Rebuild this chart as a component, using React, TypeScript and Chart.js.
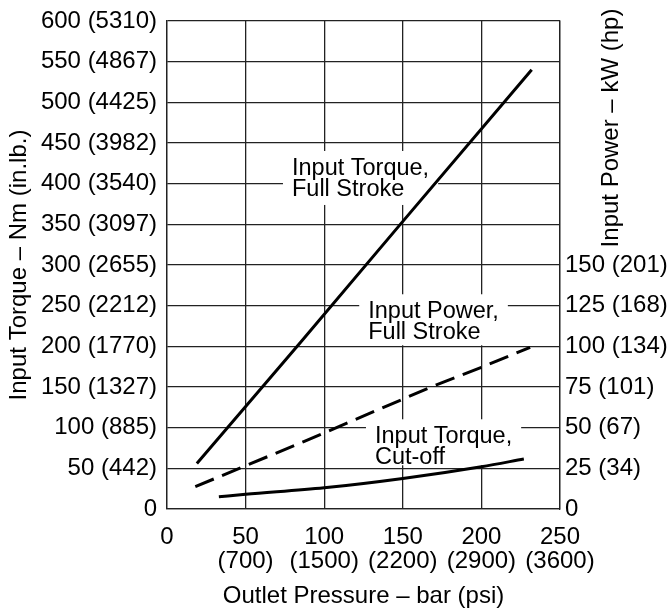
import React, { useEffect, useRef } from 'react';
import { Chart, registerables } from 'chart.js';

Chart.register(...registerables);

// ---- axis ticks ----
const pressureTicks = [0, 50, 100, 150, 200, 250];
const psiLabels = ['', '(700)', '(1500)', '(2200)', '(2900)', '(3600)'];
const torqueTicks = [0, 50, 100, 150, 200, 250, 300, 350, 400, 450, 500, 550, 600];
const inlbLabels = ['', '442', '885', '1327', '1770', '2212', '2655', '3097', '3540', '3982', '4425', '4867', '5310'];
const powerTicks = [0, 25, 50, 75, 100, 125, 150];
const hpLabels = ['', '34', '67', '101', '134', '168', '201'];

// ---- series ----
const torqueFullX = [19, 85, 148, 232];
const torqueFullNm = [56, 205, 349, 540];
const powerFullX = [18, 46, 87, 168, 200, 231];
const powerFullKW = [13.7, 25, 41.4, 75, 87.1, 99.4];
const torqueCutX = [33, 50, 100, 150, 200, 227];
const torqueCutNm = [15, 18, 26, 37.5, 52, 61.5];

// ---- curve labels (anchor in bar / Nm units) ----
const labelLines = [
  ['Input Torque,', 'Full Stroke'],
  ['Input Power,', 'Full Stroke'],
  ['Input Torque,', 'Cut-off'],
];
const labelX = [79.5, 128, 132.3];
const labelY = [410.7, 234.5, 80.8];

const xTitle = 'Outlet Pressure – bar (psi)';
const yTitle = 'Input Torque – Nm (in.lb.)';
const y2Title = 'Input Power – kW (hp)';

// ---- styles ----
const FONT_FAMILY = '"Liberation Sans", Arial, Helvetica, sans-serif';
const AXIS_FONT = `24px ${FONT_FAMILY}`;
const LABEL_FONT = `23.5px ${FONT_FAMILY}`;
const LABEL_LINE_GAP = 21;
const labelBoxPadBottom = [9, 6, 1];
const GRID = '#222';
const W = 671;
const H = 610;
const AREA = { left: 167, right: 560, top: 21, bottom: 509 };

const toPts = (xs: number[], ys: number[]) => xs.map((x, i) => ({ x, y: ys[i] }));

const annotatePlugin = {
  id: 'annotate',
  beforeDatasetsDraw(chart: any) {
    const ctx = chart.ctx;
    const xs = chart.scales.x;
    const ys = chart.scales.y;
    ctx.save();
    ctx.font = LABEL_FONT;
    ctx.fillStyle = '#fff';
    labelLines.forEach((lines, i) => {
      const px = xs.getPixelForValue(labelX[i]);
      const py = ys.getPixelForValue(labelY[i]);
      const w = Math.max(...lines.map((t) => ctx.measureText(t).width));
      const top = py - 24;
      const bottom = py + LABEL_LINE_GAP * (lines.length - 1) + labelBoxPadBottom[i];
      ctx.fillRect(px - 9, top, w + 18, bottom - top);
    });
    ctx.restore();
  },
  afterDraw(chart: any) {
    const ctx = chart.ctx;
    const xs = chart.scales.x;
    const ys = chart.scales.y;
    const area = chart.chartArea;
    ctx.save();
    ctx.fillStyle = '#000';
    ctx.font = LABEL_FONT;
    ctx.textAlign = 'left';
    ctx.textBaseline = 'alphabetic';
    labelLines.forEach((lines, i) => {
      const px = xs.getPixelForValue(labelX[i]);
      const py = ys.getPixelForValue(labelY[i]);
      lines.forEach((t, j) => ctx.fillText(t, px, py + j * LABEL_LINE_GAP));
    });

    ctx.font = AXIS_FONT;
    ctx.textAlign = 'center';
    ctx.textBaseline = 'alphabetic';
    ctx.fillText(xTitle, (area.left + area.right) / 2, area.bottom + 94);
    ctx.save();
    ctx.translate(19, (area.top + area.bottom) / 2);
    ctx.rotate(-Math.PI / 2);
    ctx.textBaseline = 'middle';
    ctx.fillText(yTitle, 0, 0);
    ctx.restore();
    ctx.save();
    ctx.translate(611, area.top + 107);
    ctx.rotate(-Math.PI / 2);
    ctx.textBaseline = 'middle';
    ctx.fillText(y2Title, 0, 0);
    ctx.restore();
    ctx.restore();
  },
};

export default function App() {
  const ref = useRef<HTMLCanvasElement | null>(null);

  useEffect(() => {
    document.body.style.margin = '0';
    document.documentElement.style.overflow = 'hidden';
    if (!ref.current) return;
    Chart.defaults.font.family = FONT_FAMILY;
    const chart = new Chart(ref.current, {
      type: 'line',
      data: {
        datasets: [
          {
            label: 'Input Torque, Full Stroke',
            data: toPts(torqueFullX, torqueFullNm),
            yAxisID: 'y',
            borderColor: '#000',
            borderWidth: 3,
            pointRadius: 0,
            tension: 0,
            fill: false,
          },
          {
            label: 'Input Power, Full Stroke',
            data: toPts(powerFullX, powerFullKW),
            yAxisID: 'y2',
            borderColor: '#000',
            borderWidth: 3,
            borderDash: [20, 9],
            pointRadius: 0,
            tension: 0,
            fill: false,
          },
          {
            label: 'Input Torque, Cut-off',
            data: toPts(torqueCutX, torqueCutNm),
            yAxisID: 'y',
            borderColor: '#000',
            borderWidth: 3,
            pointRadius: 0,
            cubicInterpolationMode: 'monotone',
            fill: false,
          },
        ],
      },
      options: {
        animation: false,
        responsive: false,
        layout: { padding: { top: AREA.top, left: 0, right: 0, bottom: 0 } },
        plugins: { legend: { display: false }, tooltip: { enabled: false } },
        scales: {
          x: {
            type: 'linear',
            min: 0,
            max: 250,
            afterBuildTicks: (s: any) => {
              s.ticks = pressureTicks.map((v) => ({ value: v }));
            },
            afterFit: (s: any) => {
              s.height = H - AREA.bottom;
            },
            grid: { color: GRID, lineWidth: 1.3, drawTicks: false },
            border: { display: true, color: GRID, width: 1.3 },
            ticks: {
              color: '#000',
              font: { size: 24, lineHeight: 1 },
              padding: 16,
              maxRotation: 0,
              autoSkip: false,
              callback: (v: any, i: number) => (psiLabels[i] ? [String(v), psiLabels[i]] : String(v)),
            },
          },
          y: {
            type: 'linear',
            position: 'left',
            min: 0,
            max: 600,
            afterBuildTicks: (s: any) => {
              s.ticks = torqueTicks.map((v) => ({ value: v }));
            },
            afterFit: (s: any) => {
              s.width = AREA.left;
            },
            grid: { color: GRID, lineWidth: 1.3, drawTicks: false },
            border: { display: true, color: GRID, width: 1.3 },
            ticks: {
              color: '#000',
              font: { size: 24, lineHeight: 0.1 },
              padding: 10,
              autoSkip: false,
              callback: (v: any, i: number) => (inlbLabels[i] ? `${v} (${inlbLabels[i]})` : `${v}`),
            },
          },
          y2: {
            type: 'linear',
            position: 'right',
            min: 0,
            max: 300,
            afterBuildTicks: (s: any) => {
              s.ticks = powerTicks.map((v) => ({ value: v }));
            },
            afterFit: (s: any) => {
              s.width = W - AREA.right;
            },
            grid: { display: false, drawTicks: false },
            border: { display: true, color: GRID, width: 1.3 },
            ticks: {
              color: '#000',
              font: { size: 24, lineHeight: 0.1 },
              padding: 5,
              autoSkip: false,
              callback: (v: any, i: number) => (hpLabels[i] ? `${v} (${hpLabels[i]})` : `${v}`),
            },
          },
        },
      },
      plugins: [annotatePlugin],
    } as any);
    return () => chart.destroy();
  }, []);

  return (
    <div style={{ width: W, height: H, overflow: 'hidden' }}>
      <canvas ref={ref} width={W} height={H} style={{ display: 'block', width: W, height: H }} />
    </div>
  );
}
